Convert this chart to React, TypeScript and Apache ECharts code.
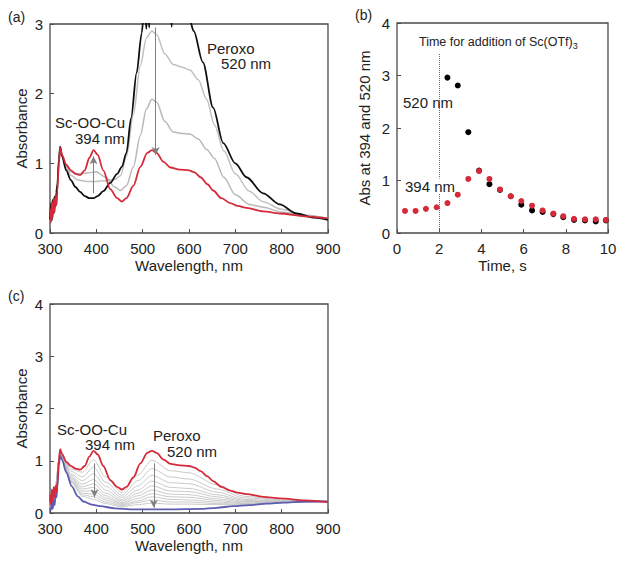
import React, { useEffect, useRef } from "react";
import * as echarts from "echarts";

const FONT = "'Liberation Sans', Arial, Helvetica, sans-serif";

// ---------- Panel (a) ----------
const WL_A_RED = [300, 302, 304, 306, 308, 310, 312, 314, 316, 319, 322, 326, 335, 345, 355, 365, 375, 385, 394, 403, 415, 430, 445, 455, 465, 480, 495, 510, 520, 530, 545, 560, 580, 600, 612, 625, 640, 652, 670, 689, 705, 724, 760, 796, 850, 900];
const RED_A = [0.35, 0.15, 0.45, 0.22, 0.5, 0.3, 0.52, 0.4, 0.6, 1.0, 1.22, 1.12, 0.98, 0.9, 0.85, 0.83, 0.9, 1.08, 1.19, 1.12, 0.9, 0.63, 0.5, 0.45, 0.5, 0.68, 0.95, 1.15, 1.19, 1.15, 1.02, 0.94, 0.91, 0.9, 0.87, 0.8, 0.7, 0.61, 0.5, 0.43, 0.39, 0.36, 0.31, 0.28, 0.24, 0.21];

const WL_A_BLACK = [300, 302, 304, 306, 308, 310, 312, 314, 316, 319, 322, 326, 335, 345, 355, 365, 375, 385, 394, 403, 415, 430, 445, 455, 465, 475, 487, 498, 504, 508, 511, 514, 518, 522, 530, 550, 563, 566, 580, 600, 610, 630, 652, 674, 700, 724, 760, 796, 832, 870, 900];
const BLACK_A = [0.2, 0.42, 0.18, 0.48, 0.28, 0.52, 0.38, 0.58, 0.7, 1.05, 1.24, 1.1, 0.9, 0.76, 0.66, 0.59, 0.53, 0.5, 0.5, 0.53, 0.6, 0.72, 0.85, 0.95, 1.15, 1.65, 2.3, 2.87, 3.3, 2.93, 3.4, 2.95, 3.5, 3.6, 3.8, 3.9, 2.96, 3.9, 3.6, 3.1, 2.9, 2.45, 1.8, 1.29, 1.0, 0.8, 0.57, 0.41, 0.28, 0.22, 0.19];

const WL_A_GRAY = [308, 312, 316, 319, 322, 326, 335, 345, 360, 380, 400, 420, 440, 452, 465, 480, 495, 508, 520, 530, 548, 566, 585, 602, 620, 638, 655, 675, 700, 730, 760, 800, 850, 900];
const GRAY1_A = [0.4, 0.55, 0.7, 1.0, 1.2, 1.1, 0.92, 0.83, 0.76, 0.74, 0.74, 0.75, 0.77, 0.82, 1.1, 1.7, 2.4, 2.8, 2.9, 2.85, 2.57, 2.42, 2.38, 2.34, 2.2, 1.92, 1.55, 1.18, 0.85, 0.6, 0.45, 0.34, 0.26, 0.21];
const GRAY2_A = [0.4, 0.55, 0.7, 1.0, 1.2, 1.1, 0.95, 0.88, 0.85, 0.86, 0.88, 0.8, 0.66, 0.61, 0.68, 0.95, 1.4, 1.78, 1.92, 1.88, 1.6, 1.45, 1.43, 1.42, 1.35, 1.2, 1.07, 0.8, 0.55, 0.41, 0.37, 0.3, 0.25, 0.21];

// ---------- Panel (b) ----------
const TIME_520 = [2.39, 2.88, 3.38, 3.89, 4.38, 4.88, 5.39, 5.89, 6.4, 6.9, 7.41, 7.88, 8.39, 8.91, 9.42, 9.9];
const ABS_520 = [2.96, 2.81, 1.92, 1.19, 0.93, 0.82, 0.7, 0.54, 0.43, 0.4, 0.36, 0.3, 0.25, 0.24, 0.22, 0.24];
const TIME_394 = [0.38, 0.88, 1.37, 1.88, 2.39, 2.88, 3.38, 3.89, 4.38, 4.88, 5.39, 5.89, 6.4, 6.9, 7.41, 7.88, 8.39, 8.91, 9.42, 9.9];
const ABS_394 = [0.42, 0.42, 0.46, 0.49, 0.57, 0.73, 1.03, 1.18, 1.03, 0.83, 0.7, 0.61, 0.52, 0.43, 0.37, 0.32, 0.27, 0.26, 0.26, 0.25];

// ---------- Panel (c) ----------
const WL_C_BLUE = [300, 302, 304, 306, 308, 310, 312, 314, 316, 319, 322, 326, 335, 347, 360, 372, 390, 408, 440, 480, 520, 560, 624, 660, 695, 730, 768, 803, 850, 900];
const BLUE_C = [0.1, 0.05, 0.2, 0.08, 0.25, 0.15, 0.35, 0.3, 0.5, 0.9, 1.1, 1.02, 0.78, 0.51, 0.32, 0.22, 0.16, 0.13, 0.09, 0.07, 0.07, 0.07, 0.08, 0.1, 0.13, 0.15, 0.18, 0.2, 0.22, 0.22];
const WL_C_GRAY = [300, 310, 322, 345, 370, 394, 420, 455, 490, 520, 560, 600, 660, 720, 800, 900];
const GRAY_C1 = [0.18, 0.43, 1.2, 0.84, 0.78, 1.02, 0.69, 0.39, 0.73, 1.01, 0.81, 0.77, 0.54, 0.32, 0.25, 0.22];
const GRAY_C2 = [0.16, 0.41, 1.18, 0.8, 0.69, 0.88, 0.59, 0.34, 0.62, 0.85, 0.69, 0.65, 0.46, 0.29, 0.24, 0.22];
const GRAY_C3 = [0.15, 0.39, 1.17, 0.75, 0.62, 0.75, 0.51, 0.3, 0.52, 0.72, 0.58, 0.56, 0.4, 0.26, 0.23, 0.22];
const GRAY_C4 = [0.14, 0.37, 1.16, 0.72, 0.55, 0.64, 0.44, 0.26, 0.44, 0.61, 0.49, 0.47, 0.35, 0.24, 0.22, 0.22];
const GRAY_C5 = [0.13, 0.36, 1.15, 0.69, 0.5, 0.56, 0.38, 0.23, 0.38, 0.52, 0.42, 0.41, 0.31, 0.22, 0.22, 0.22];
const GRAY_C6 = [0.12, 0.35, 1.14, 0.67, 0.46, 0.49, 0.33, 0.2, 0.33, 0.44, 0.36, 0.35, 0.27, 0.21, 0.21, 0.22];
const GRAY_C7 = [0.11, 0.34, 1.13, 0.65, 0.42, 0.42, 0.29, 0.18, 0.28, 0.37, 0.31, 0.3, 0.24, 0.19, 0.21, 0.22];
const GRAY_C8 = [0.1, 0.33, 1.13, 0.62, 0.38, 0.36, 0.25, 0.16, 0.23, 0.31, 0.26, 0.25, 0.21, 0.18, 0.2, 0.22];
const GRAY_C9 = [0.1, 0.32, 1.12, 0.61, 0.35, 0.31, 0.21, 0.14, 0.2, 0.25, 0.21, 0.21, 0.18, 0.17, 0.2, 0.22];
const GRAY_C10 = [0.09, 0.32, 1.11, 0.59, 0.32, 0.26, 0.18, 0.12, 0.16, 0.19, 0.17, 0.17, 0.16, 0.16, 0.2, 0.22];
const GRAYS_C = [GRAY_C1, GRAY_C2, GRAY_C3, GRAY_C4, GRAY_C5, GRAY_C6, GRAY_C7, GRAY_C8, GRAY_C9, GRAY_C10];

const zip = (xs: number[], ys: number[]) => xs.map((x, i) => [x, ys[i]]);

const TXT = "#222";
const BORDER = "#4a4a4a";

function gridBox(left: number, top: number, width: number, height: number) {
  return { left, top, width, height, show: true, borderColor: BORDER, borderWidth: 1.3, backgroundColor: "transparent" };
}

function valAxis(gridIndex: number, min: number, max: number, interval: number, name: string, nameGap: number, isY: boolean) {
  return {
    gridIndex,
    type: "value",
    min,
    max,
    interval,
    name,
    nameLocation: "middle",
    nameGap,
    nameTextStyle: { fontSize: 15, color: TXT, fontFamily: FONT },
    axisLine: { show: false },
    axisTick: { show: true, inside: true, length: 4, lineStyle: { color: BORDER, width: 1 } },
    axisLabel: { fontSize: 15, color: TXT, fontFamily: FONT, margin: isY ? 7 : 8 },
    splitLine: { show: false },
  };
}

function lineSeries(xi: number, data: number[][], color: string, width: number, z: number, extra: any = {}) {
  return {
    type: "line",
    xAxisIndex: xi,
    yAxisIndex: xi,
    data,
    showSymbol: false,
    symbol: "none",
    smooth: 0.3,
    smoothMonotone: "x",
    lineStyle: { color, width },
    z,
    silent: true,
    ...extra,
  };
}

function arrows(pairs: number[][]) {
  return {
    silent: true,
    symbol: ["none", "arrow"],
    symbolSize: [6, 8],
    lineStyle: { color: "#808080", width: 1, type: "solid" },
    label: { show: false },
    data: pairs.map(([x, y1, y2]) => [{ coord: [x, y1] }, { coord: [x, y2] }]),
  };
}

function txt(text: string, x: number, y: number, size = 15, extra: any = {}) {
  return {
    type: "text",
    x,
    y,
    z: 100,
    style: { text, fill: TXT, fontSize: size, fontFamily: FONT, verticalAlign: "middle", align: "left", ...extra },
  };
}

export default function App() {
  const ref = useRef<HTMLDivElement>(null);
  useEffect(() => {
    if (!ref.current) return;
    const chart = echarts.init(ref.current, null, { renderer: "svg" });
    const series: any[] = [];
    // (a)
    series.push(lineSeries(0, zip(WL_A_GRAY, GRAY1_A), "#c0c0c0", 1.5, 2));
    series.push(lineSeries(0, zip(WL_A_GRAY, GRAY2_A), "#b8b8b8", 1.5, 2));
    series.push(lineSeries(0, zip(WL_A_BLACK, BLACK_A), "#111111", 1.8, 3));
    series.push(
      lineSeries(0, zip(WL_A_RED, RED_A), "#d42a3a", 1.8, 4, {
        markLine: arrows([[394, 0.57, 1.1], [528, 2.95, 1.12]]),
      })
    );
    // (b)
    series.push({
      type: "scatter",
      xAxisIndex: 1,
      yAxisIndex: 1,
      data: zip(TIME_520, ABS_520),
      symbolSize: 6,
      itemStyle: { color: "#000000", opacity: 1 },
      z: 3,
      silent: true,
      markLine: {
        silent: true,
        symbol: ["none", "none"],
        lineStyle: { color: "#666", width: 1, type: "dotted" },
        label: { show: false },
        data: [[{ coord: [2, 0] }, { coord: [2, 3.43] }]],
      },
    });
    series.push({
      type: "scatter",
      xAxisIndex: 1,
      yAxisIndex: 1,
      data: zip(TIME_394, ABS_394),
      symbolSize: 6,
      itemStyle: { color: "#d42a3a", opacity: 1 },
      z: 4,
      silent: true,
    });
    // (c)
    GRAYS_C.forEach((g) => series.push(lineSeries(2, zip(WL_C_GRAY, g), "#c4c4c4", 0.9, 2)));
    series.push(lineSeries(2, zip(WL_C_BLUE, BLUE_C), "#5c5cb0", 1.8, 3));
    series.push(
      lineSeries(2, zip(WL_A_RED, RED_A), "#d42a3a", 1.8, 4, {
        markLine: arrows([[396, 0.95, 0.3], [524, 0.95, 0.1]]),
      })
    );

    chart.setOption({
      animation: false,
      backgroundColor: "#ffffff",
      textStyle: { fontFamily: FONT },
      grid: [gridBox(50, 24, 278, 209), gridBox(397, 23, 211, 210), gridBox(50, 304, 278, 209)],
      xAxis: [
        valAxis(0, 300, 900, 100, "Wavelength, nm", 25, false),
        valAxis(1, 0, 10, 2, "Time, s", 25, false),
        valAxis(2, 300, 900, 100, "Wavelength, nm", 25, false),
      ],
      yAxis: [
        valAxis(0, 0, 3, 1, "Absorbance", 21, true),
        valAxis(1, 0, 4, 1, "Abs at 394 and 520 nm", 25, true),
        valAxis(2, 0, 4, 1, "Absorbance", 21, true),
      ],
      series,
      graphic: [
        txt("(a)", 8, 17, 14),
        txt("(b)", 355, 15, 14),
        txt("(c)", 8, 296, 14),
        txt("Sc-OO-Cu", 55, 122),
        txt("394 nm", 75, 138),
        txt("Peroxo", 207, 48),
        txt("520 nm", 221, 63),
        {
          type: "text",
          x: 419,
          y: 42,
          z: 100,
          style: {
            text: "Time for addition of Sc(OTf){s|3}",
            fill: TXT,
            fontSize: 12.5,
            fontFamily: FONT,
            verticalAlign: "middle",
            align: "left",
            rich: { s: { fontSize: 9, fontFamily: FONT, fill: TXT, padding: [7, 0, 0, 0] } },
          },
        },
        txt("520 nm", 403, 102),
        txt("394 nm", 405, 186, 15, { backgroundColor: "#ffffff" }),
        txt("Sc-OO-Cu", 57, 429),
        txt("394 nm", 85, 444),
        txt("Peroxo", 153, 435),
        txt("520 nm", 167, 451),
      ],
    });
    return () => chart.dispose();
  }, []);
  return <div ref={ref} style={{ position: "fixed", left: 0, top: 0, width: 624, height: 564, background: "#fff" }} />;
}
